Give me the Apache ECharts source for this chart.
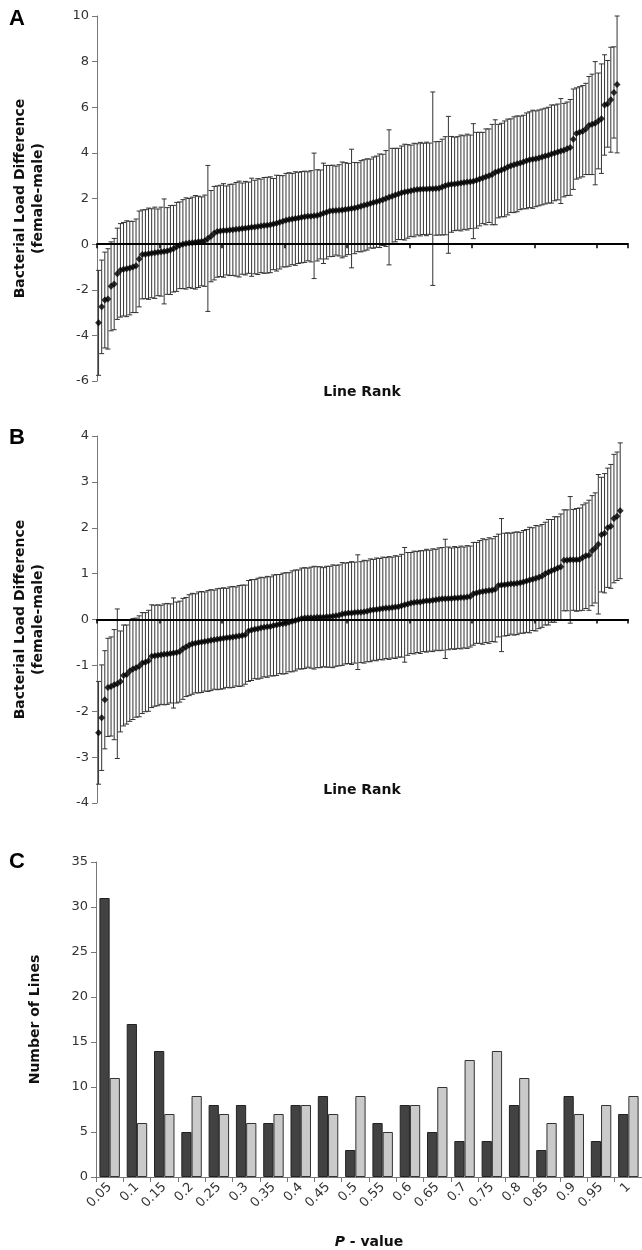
<!DOCTYPE html>
<html>
<head>
<meta charset="utf-8">
<script src="https://cdn.jsdelivr.net/npm/echarts@6.0.0/dist/echarts.min.js"></script>
<style>
html, body { margin: 0; padding: 0; background: #fff; }
#main { width: 642px; height: 1250px; }
</style>
</head>
<body>
<div id="main"></div>
<script>
// panel A: ranked female-male differences, 167 lines
var meanA = [-3.45,-2.75,-2.45,-2.4,-1.85,-1.75,-1.3,-1.15,-1.1,-1.08,
  -1.05,-1.0,-0.95,-0.65,-0.45,-0.44,-0.42,-0.4,-0.38,-0.36,
  -0.33,-0.32,-0.3,-0.26,-0.2,-0.12,-0.05,0.0,0.03,0.05,
  0.06,0.08,0.1,0.12,0.15,0.25,0.35,0.48,0.55,0.58,
  0.6,0.6,0.62,0.63,0.65,0.66,0.68,0.7,0.72,0.74,
  0.75,0.77,0.8,0.82,0.83,0.85,0.88,0.92,0.96,1.0,
  1.05,1.08,1.1,1.12,1.15,1.18,1.2,1.22,1.22,1.24,
  1.26,1.3,1.35,1.4,1.45,1.46,1.47,1.48,1.5,1.52,
  1.54,1.56,1.58,1.62,1.66,1.7,1.74,1.78,1.82,1.86,
  1.9,1.94,2.0,2.05,2.1,2.15,2.2,2.25,2.28,2.31,
  2.34,2.37,2.4,2.41,2.42,2.42,2.43,2.43,2.44,2.45,
  2.5,2.56,2.6,2.62,2.64,2.66,2.68,2.7,2.72,2.73,
  2.76,2.8,2.85,2.9,2.95,3.0,3.05,3.15,3.2,3.25,
  3.3,3.38,3.44,3.48,3.52,3.56,3.6,3.65,3.7,3.72,
  3.74,3.78,3.82,3.86,3.9,3.95,4.0,4.04,4.08,4.12,
  4.18,4.24,4.6,4.85,4.9,4.95,5.05,5.2,5.25,5.3,
  5.4,5.5,6.1,6.15,6.33,6.65,7.0];
var errA = [2.3,2.05,2.1,2.2,1.95,2.0,2.0,2.05,2.05,2.1,
  2.05,2.0,2.05,2.1,1.95,1.95,2.0,1.95,2.0,1.9,
  1.95,2.3,1.9,1.95,1.9,1.95,1.9,1.95,2.0,1.95,
  2.0,2.05,2.0,1.95,2.0,3.2,2.0,2.05,2.0,2.0,
  2.05,1.95,2.0,2.0,2.05,2.1,2.0,2.05,2.0,2.15,
  2.05,2.1,2.05,2.1,2.1,2.1,2.0,2.1,2.05,2.0,
  2.05,2.05,2.0,2.05,2.0,2.0,2.0,1.95,2.0,2.75,
  2.0,1.95,2.2,2.05,2.0,2.0,1.95,2.0,2.1,2.05,
  2.0,2.6,2.0,1.95,2.0,2.0,2.0,1.95,2.0,2.0,
  2.05,2.0,2.1,2.96,2.1,2.05,2.0,2.05,2.1,2.05,
  2.0,2.05,2.0,2.05,2.0,2.05,2.0,4.24,2.05,2.05,
  2.1,2.15,3.0,2.1,2.05,2.05,2.1,2.05,2.1,2.05,
  2.52,2.1,2.05,2.0,2.1,2.05,2.2,2.3,2.05,2.05,
  2.1,2.1,2.05,2.1,2.1,2.05,2.05,2.1,2.1,2.15,
  2.1,2.1,2.1,2.1,2.1,2.15,2.1,2.1,2.3,2.05,
  2.05,2.1,2.2,2.0,2.0,2.0,2.0,2.15,2.2,2.7,
  2.1,2.4,2.2,1.9,2.3,2.0,3.0];

// panel B: 168 lines
var meanB = [-2.47,-2.14,-1.75,-1.48,-1.46,-1.42,-1.4,-1.35,-1.22,-1.2,
  -1.12,-1.08,-1.05,-1.02,-0.95,-0.93,-0.9,-0.8,-0.79,-0.78,
  -0.77,-0.76,-0.75,-0.74,-0.73,-0.72,-0.7,-0.64,-0.6,-0.56,
  -0.53,-0.52,-0.5,-0.49,-0.48,-0.47,-0.45,-0.44,-0.43,-0.42,
  -0.41,-0.4,-0.39,-0.38,-0.37,-0.36,-0.35,-0.33,-0.25,-0.23,
  -0.21,-0.2,-0.18,-0.17,-0.16,-0.15,-0.13,-0.12,-0.1,-0.09,
  -0.08,-0.06,-0.04,-0.02,0.0,0.02,0.03,0.04,0.04,0.04,
  0.05,0.05,0.05,0.06,0.06,0.07,0.08,0.09,0.12,0.13,
  0.14,0.14,0.15,0.16,0.16,0.17,0.18,0.2,0.21,0.22,
  0.23,0.24,0.25,0.25,0.26,0.27,0.28,0.3,0.32,0.34,
  0.36,0.37,0.38,0.38,0.4,0.41,0.41,0.42,0.43,0.44,
  0.45,0.45,0.46,0.46,0.47,0.47,0.48,0.48,0.49,0.5,
  0.56,0.58,0.6,0.61,0.62,0.63,0.64,0.66,0.74,0.75,
  0.76,0.77,0.78,0.78,0.79,0.8,0.82,0.84,0.86,0.88,
  0.9,0.92,0.95,1.0,1.03,1.06,1.09,1.12,1.15,1.29,
  1.29,1.3,1.3,1.3,1.31,1.35,1.39,1.4,1.5,1.56,
  1.64,1.85,1.88,2.0,2.03,2.2,2.25,2.37];
var errB = [1.12,1.15,1.07,1.07,1.08,1.2,1.63,1.1,1.1,1.08,
  1.1,1.1,1.08,1.1,1.1,1.08,1.1,1.12,1.1,1.1,
  1.08,1.1,1.1,1.08,1.2,1.1,1.1,1.1,1.08,1.1,
  1.1,1.08,1.1,1.1,1.08,1.1,1.1,1.08,1.1,1.1,
  1.1,1.08,1.1,1.1,1.08,1.1,1.1,1.08,1.1,1.1,
  1.08,1.1,1.1,1.08,1.1,1.08,1.1,1.1,1.08,1.1,
  1.1,1.08,1.1,1.1,1.08,1.1,1.1,1.08,1.1,1.12,
  1.1,1.1,1.08,1.1,1.1,1.12,1.1,1.1,1.12,1.1,
  1.1,1.12,1.1,1.25,1.1,1.12,1.1,1.12,1.1,1.12,
  1.1,1.12,1.1,1.12,1.1,1.12,1.1,1.12,1.25,1.12,
  1.1,1.12,1.1,1.12,1.1,1.12,1.1,1.12,1.1,1.12,
  1.12,1.3,1.12,1.1,1.12,1.1,1.12,1.1,1.12,1.1,
  1.12,1.1,1.12,1.15,1.12,1.15,1.12,1.15,1.12,1.45,
  1.12,1.12,1.1,1.12,1.12,1.1,1.12,1.12,1.15,1.12,
  1.15,1.12,1.12,1.12,1.15,1.12,1.15,1.12,1.15,1.1,
  1.1,1.38,1.1,1.12,1.12,1.15,1.15,1.2,1.2,1.2,
  1.52,1.25,1.3,1.3,1.35,1.4,1.4,1.48];

// panel C: histogram of P-values
var pValues = ["0.05","0.1","0.15","0.2","0.25","0.3","0.35","0.4","0.45","0.5",
  "0.55","0.6","0.65","0.7","0.75","0.8","0.85","0.9","0.95","1"];
var countDark = [31,17,14,5,8,8,6,8,9,3,6,8,5,4,4,8,3,9,4,7];
var countLight = [11,6,7,9,7,6,7,8,7,9,5,8,10,13,14,11,6,7,8,9];

var rankCount = 170;
var ranks = [];
for (var r = 1; r <= rankCount; r++) ranks.push(String(r));

var FONT = "DejaVu Sans";

var myChart = echarts.init(document.getElementById("main"));

function rankAxis(gridIndex) {
  return {
    type: "category",
    gridIndex: gridIndex,
    data: ranks,
    boundaryGap: true,
    z: 5,
    axisLine: { onZero: true, lineStyle: { color: "#000", width: 2 } },
    axisTick: { show: true, interval: 19, length: 4, inside: false, lineStyle: { color: "#000", width: 1.5 } },
    axisLabel: { show: false },
    splitLine: { show: false },
  };
}

function diffAxis(gridIndex, min, max, step) {
  return {
    type: "value",
    gridIndex: gridIndex,
    min: min,
    max: max,
    interval: step,
    name: "Bacterial Load Difference\n(female-male)",
    nameLocation: "middle",
    nameGap: 50,
    nameTextStyle: { fontFamily: FONT, fontWeight: "bold", fontSize: 14, color: "#111", lineHeight: 18 },
    axisLine: { show: true, onZero: false, lineStyle: { color: "#777", width: 1 } },
    axisTick: { show: true, length: 5, lineStyle: { color: "#777" } },
    axisLabel: { fontFamily: FONT, fontSize: 13, color: "#333", margin: 8 },
    splitLine: { show: false },
  };
}

function errorBars(idx, means, errs) {
  return {
    type: "custom",
    xAxisIndex: idx,
    yAxisIndex: idx,
    silent: true,
    data: means.map(function (m, i) { return [i, m - errs[i], m + errs[i]]; }),
    encode: { x: 0, y: [1, 2] },
    renderItem: function (params, api) {
      var lo = api.coord([api.value(0), api.value(1)]);
      var hi = api.coord([api.value(0), api.value(2)]);
      var cap = 2.5;
      var st = { stroke: "#333", lineWidth: 1 };
      return {
        type: "group",
        children: [
          { type: "line", shape: { x1: lo[0], y1: lo[1], x2: hi[0], y2: hi[1] }, style: st },
          { type: "line", shape: { x1: lo[0] - cap, y1: lo[1], x2: lo[0] + cap, y2: lo[1] }, style: st },
          { type: "line", shape: { x1: hi[0] - cap, y1: hi[1], x2: hi[0] + cap, y2: hi[1] }, style: st },
        ],
      };
    },
    z: 2,
  };
}

function points(idx, means) {
  return {
    type: "scatter",
    xAxisIndex: idx,
    yAxisIndex: idx,
    data: means,
    symbol: "diamond",
    symbolSize: 7,
    itemStyle: { color: "#000" },
    z: 6,
  };
}

var option = {
  animation: false,
  backgroundColor: "#fff",
  grid: [
    { left: 97, top: 16, width: 531, height: 365 },
    { left: 97, top: 436, width: 531, height: 367 },
    { left: 96, top: 862, width: 550, height: 315 },
  ],
  xAxis: [
    rankAxis(0),
    rankAxis(1),
    {
      type: "category",
      gridIndex: 2,
      data: pValues,
      name: "{p|P} - value",
      nameLocation: "middle",
      nameGap: 58,
      nameTextStyle: {
        fontFamily: FONT, fontWeight: "bold", fontSize: 14, color: "#111",
        rich: { p: { fontFamily: FONT, fontWeight: "bold", fontStyle: "italic", fontSize: 14, color: "#111" } },
      },
      axisLine: { lineStyle: { color: "#777" } },
      axisTick: { show: true, length: 5, lineStyle: { color: "#777" } },
      axisLabel: { interval: 0, rotate: 45, fontFamily: FONT, fontSize: 13, color: "#333", margin: 8 },
    },
  ],
  yAxis: [
    diffAxis(0, -6, 10, 2),
    diffAxis(1, -4, 4, 1),
    {
      type: "value",
      gridIndex: 2,
      min: 0,
      max: 35,
      interval: 5,
      name: "Number of Lines",
      nameLocation: "middle",
      nameGap: 54,
      nameTextStyle: { fontFamily: FONT, fontWeight: "bold", fontSize: 14, color: "#111" },
      axisLine: { show: true, lineStyle: { color: "#777" } },
      axisTick: { show: true, length: 5, lineStyle: { color: "#777" } },
      axisLabel: { fontFamily: FONT, fontSize: 13, color: "#333", margin: 8 },
      splitLine: { show: false },
    },
  ],
  graphic: [
    { type: "text", left: 9, top: 8, style: { text: "A", font: "bold 22px 'Liberation Sans'", fill: "#000" } },
    { type: "text", left: 9, top: 427, style: { text: "B", font: "bold 22px 'Liberation Sans'", fill: "#000" } },
    { type: "text", left: 9, top: 851, style: { text: "C", font: "bold 22px 'Liberation Sans'", fill: "#000" } },
    { type: "text", x: 362, y: 392, style: { text: "Line Rank", font: "bold 14px 'DejaVu Sans'", fill: "#111", align: "center", verticalAlign: "middle" } },
    { type: "text", x: 362, y: 790, style: { text: "Line Rank", font: "bold 14px 'DejaVu Sans'", fill: "#111", align: "center", verticalAlign: "middle" } },
  ],
  series: [
    errorBars(0, meanA, errA),
    points(0, meanA),
    errorBars(1, meanB, errB),
    points(1, meanB),
    {
      type: "bar",
      xAxisIndex: 2,
      yAxisIndex: 2,
      data: countDark,
      barGap: "0%",
      barCategoryGap: "25%",
      itemStyle: { color: "#424242", borderColor: "#222", borderWidth: 1 },
    },
    {
      type: "bar",
      xAxisIndex: 2,
      yAxisIndex: 2,
      data: countLight,
      barGap: "0%",
      barCategoryGap: "25%",
      itemStyle: { color: "#cacaca", borderColor: "#333", borderWidth: 1 },
    },
  ],
};

myChart.setOption(option);
</script>
</body>
</html>
